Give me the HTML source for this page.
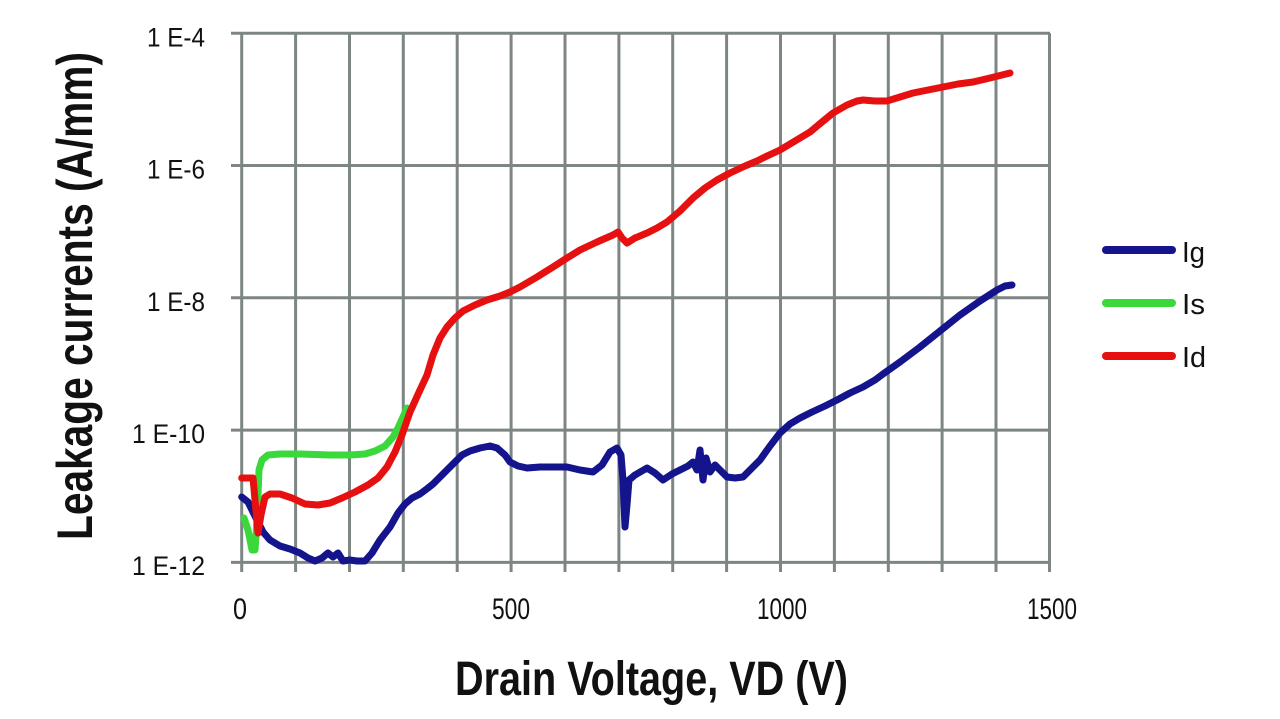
<!DOCTYPE html>
<html>
<head>
<meta charset="utf-8">
<style>
html,body{margin:0;padding:0;background:#ffffff;}
svg{display:block;}
text{font-family:"Liberation Sans",Arial,sans-serif;fill:#111;}
</style>
</head>
<body>
<svg width="1280" height="719" viewBox="0 0 1280 719" xmlns="http://www.w3.org/2000/svg">
<rect x="0" y="0" width="1280" height="719" fill="#ffffff"/>
<!-- grid -->
<g stroke="#7d8585" stroke-width="3" fill="none">
  <line x1="231" y1="33.2" x2="1050" y2="33.2"/>
  <line x1="231" y1="165.5" x2="1050" y2="165.5"/>
  <line x1="231" y1="297.8" x2="1050" y2="297.8"/>
  <line x1="231" y1="430.1" x2="1050" y2="430.1"/>
  <line x1="231" y1="562.4" x2="1050" y2="562.4"/>
  <line x1="241.7" y1="33.2" x2="241.7" y2="572"/>
  <line x1="295.6" y1="33.2" x2="295.6" y2="572"/>
  <line x1="349.5" y1="33.2" x2="349.5" y2="572"/>
  <line x1="403.3" y1="33.2" x2="403.3" y2="572"/>
  <line x1="457.2" y1="33.2" x2="457.2" y2="572"/>
  <line x1="511.1" y1="33.2" x2="511.1" y2="572"/>
  <line x1="565.0" y1="33.2" x2="565.0" y2="572"/>
  <line x1="618.9" y1="33.2" x2="618.9" y2="572"/>
  <line x1="672.7" y1="33.2" x2="672.7" y2="572"/>
  <line x1="726.6" y1="33.2" x2="726.6" y2="572"/>
  <line x1="780.5" y1="33.2" x2="780.5" y2="572"/>
  <line x1="834.4" y1="33.2" x2="834.4" y2="572"/>
  <line x1="888.3" y1="33.2" x2="888.3" y2="572"/>
  <line x1="942.1" y1="33.2" x2="942.1" y2="572"/>
  <line x1="996.0" y1="33.2" x2="996.0" y2="572"/>
  <line x1="1049.5" y1="33.2" x2="1049.5" y2="572"/>
</g>

<!-- Ig blue -->
<polyline fill="none" stroke="#14148c" stroke-width="7" stroke-linejoin="round" stroke-linecap="round"
points="241.7,497 248,502 253,512 258,522 263,532 270,540 280,546 290,549 300,553 308,558 315,561 322,558 328,553 333,557 338,553 343,561 350,560 357,561 365,561 372,553 380,540 390,527 398,513 405,504 412,498 420,494 428,488 433,484 440,477 447,470 455,462 462,455 470,451 480,448 490,446 497,448 505,455 510,462 518,466 527,468 540,467 555,467 567,467 580,470 593,472 602,465 610,452 617,448 621,455 623,480 625,527 627,505 629,480 635,475 647,468 655,473 663,480 672,474 680,470 688,466 693,462 697,470 700,450 703,480 706,458 710,472 715,465 720,470 727,477 735,478 743,477 750,470 760,460 770,446 780,433 790,424 800,418 812,412 825,406 837,400 850,393 863,387 875,380 883,374 900,362 920,347 940,331 960,315 980,301 997,290 1005,286 1012,285"/>

<!-- Is green -->
<polyline fill="none" stroke="#3ad83a" stroke-width="7" stroke-linejoin="round" stroke-linecap="round"
points="244,518 248,530 252,550 255,550 257,520 259,470 262,460 268,455 280,454 300,454 330,455 350,455 365,454 375,451 385,446 393,437 398,428 403,417 407,408"/>

<!-- Id red -->
<polyline fill="none" stroke="#e61010" stroke-width="7" stroke-linejoin="round" stroke-linecap="round"
points="241.7,478 253,478 255,500 258,533 261,515 265,497 270,494 280,494 292,498 305,504 318,505 330,503 342,498 355,492 368,485 378,478 387,467 395,452 402,435 410,412 420,390 427,375 433,355 440,338 447,327 455,318 463,311 475,305 487,300 500,296 510,292 520,287 537,277 553,267 567,258 580,250 597,242 613,235 618,232 622,238 627,243 635,238 647,233 657,228 667,222 680,211 693,198 705,188 717,180 730,173 745,166 757,161 767,156 780,150 795,141 810,132 822,122 833,113 847,105 857,101 863,100 875,101 887,101 900,97 913,93 928,90 943,87 958,84 973,82 990,78 1010,73"/>

<!-- y tick labels -->
<g font-size="27" text-anchor="end">
  <text x="205" y="46.5" textLength="58" lengthAdjust="spacingAndGlyphs">1 E-4</text>
  <text x="205" y="178.5" textLength="58" lengthAdjust="spacingAndGlyphs">1 E-6</text>
  <text x="205" y="311" textLength="58" lengthAdjust="spacingAndGlyphs">1 E-8</text>
  <text x="205" y="443" textLength="73" lengthAdjust="spacingAndGlyphs">1 E-10</text>
  <text x="205" y="575" textLength="73" lengthAdjust="spacingAndGlyphs">1 E-12</text>
</g>

<!-- x tick labels -->
<g font-size="30" text-anchor="middle">
  <text x="240" y="619" textLength="14" lengthAdjust="spacingAndGlyphs">0</text>
  <text x="511" y="619" textLength="38" lengthAdjust="spacingAndGlyphs">500</text>
  <text x="782" y="619" textLength="50" lengthAdjust="spacingAndGlyphs">1000</text>
  <text x="1052" y="619" textLength="50" lengthAdjust="spacingAndGlyphs">1500</text>
</g>

<!-- axis titles -->
<text x="455" y="695" font-size="48" font-weight="bold" textLength="393" lengthAdjust="spacingAndGlyphs">Drain Voltage, VD (V)</text>
<text transform="translate(92,540) rotate(-90)" font-size="50" font-weight="bold" textLength="488" lengthAdjust="spacingAndGlyphs">Leakage currents (A/mm)</text>

<!-- legend -->
<g stroke-width="8" stroke-linecap="round">
  <line x1="1106" y1="250" x2="1172" y2="250" stroke="#14148c"/>
  <line x1="1106" y1="303" x2="1172" y2="303" stroke="#3ad83a"/>
  <line x1="1106" y1="356" x2="1172" y2="356" stroke="#e61010"/>
</g>
<g font-size="29">
  <text x="1182" y="262" textLength="23" lengthAdjust="spacingAndGlyphs">Ig</text>
  <text x="1182" y="314" textLength="23" lengthAdjust="spacingAndGlyphs">Is</text>
  <text x="1182" y="367" textLength="24" lengthAdjust="spacingAndGlyphs">Id</text>
</g>
</svg>
</body>
</html>
